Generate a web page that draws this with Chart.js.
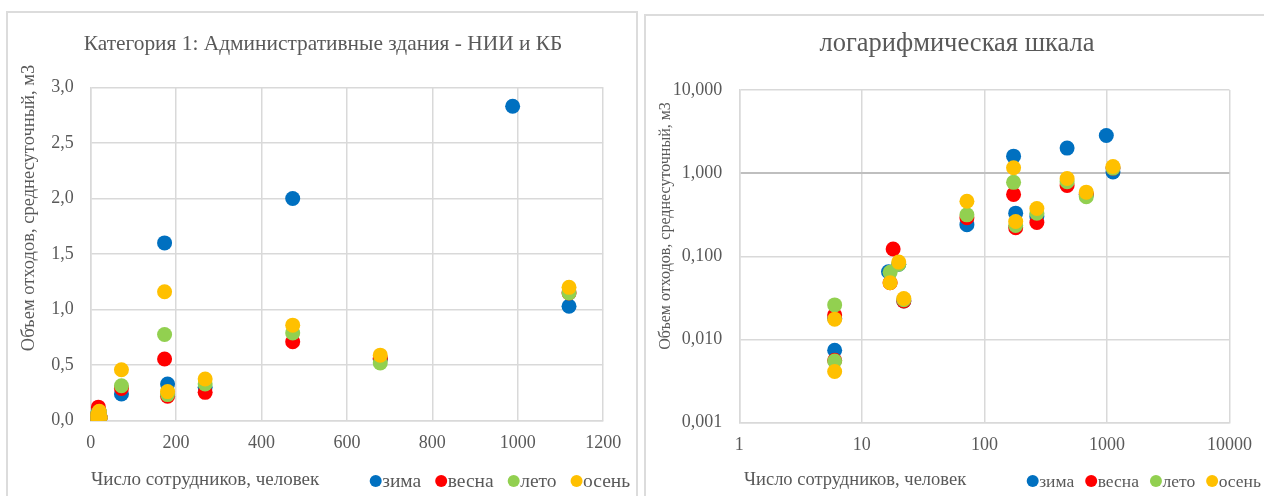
<!DOCTYPE html>
<html>
<head>
<meta charset="utf-8">
<script src="https://cdn.jsdelivr.net/npm/chart.js@4.4.1/dist/chart.umd.min.js"></script>
<style>
  html, body { margin: 0; padding: 0; background: #fff; width: 1264px; height: 496px; overflow: hidden; }
  .card { position: absolute; border: 2px solid #dcdcdc; background: #fff; box-sizing: border-box; }
  #cardLin { left: 6px; top: 11px; width: 632px; height: 530px; }
  #cardLog { left: 644px; top: 14px; width: 660px; height: 530px; }
  canvas { position: absolute; top: 0; }
  #linChart { left: 0; }
  #logChart { left: 640px; }
</style>
</head>
<body>
<div class="card" id="cardLin"></div>
<div class="card" id="cardLog"></div>
<canvas id="linChart" width="640" height="496"></canvas>
<canvas id="logChart" width="624" height="496"></canvas>
<script>
// Series: number of employees (x) and average daily waste volume, m3 (y), per season
const seasonNames  = ['зима', 'весна', 'лето', 'осень'];
const seasonColors = ['#0070C0', '#FF0000', '#92D050', '#FFC000'];

const winterX = [6, 6, 16.5, 20, 22, 72, 173, 180, 268, 473, 678, 988, 1120];
const winterY = [0.018, 0.0074, 0.065, 0.08, 0.029, 0.24, 1.60, 0.33, 0.30, 2.00, 0.55, 2.83, 1.03];

const springX = [6, 6, 17, 18, 22, 72, 173, 180, 268, 473, 678, 1120];
const springY = [0.0196, 0.0056, 0.048, 0.122, 0.029, 0.29, 0.555, 0.22, 0.255, 0.71, 0.56, 1.15];

const summerX = [6, 6, 17, 20, 22, 72, 173, 180, 268, 473, 678, 1120];
const summerY = [0.026, 0.0055, 0.064, 0.08, 0.030, 0.315, 0.775, 0.235, 0.33, 0.79, 0.52, 1.15];

const autumnX = [6, 6, 17, 20, 22, 72, 173, 180, 268, 473, 678, 1120];
const autumnY = [0.0175, 0.0041, 0.048, 0.085, 0.031, 0.458, 1.16, 0.262, 0.375, 0.86, 0.59, 1.20];

// Tick values and their labels
const linXTicks  = [0, 200, 400, 600, 800, 1000, 1200];
const linXLabels = ['0', '200', '400', '600', '800', '1000', '1200'];
const linYTicks  = [0, 0.5, 1, 1.5, 2, 2.5, 3];
const linYLabels = ['0,0', '0,5', '1,0', '1,5', '2,0', '2,5', '3,0'];
const logXTicks  = [1, 10, 100, 1000, 10000];
const logXLabels = ['1', '10', '100', '1000', '10000'];
const logYTicks  = [0.001, 0.01, 0.1, 1, 10];
const logYLabels = ['0,001', '0,010', '0,100', '1,000', '10,000'];

const titleLin = 'Категория 1: Административные здания - НИИ и КБ';
const titleLog = 'логарифмическая шкала';
const xTitle = 'Число сотрудников, человек';
const yTitle = 'Объем отходов, среднесуточный, м3';

const FONT = '"Liberation Serif", "Times New Roman", serif';
const TEXT = '#595959';
const GRID = '#d9d9d9';

const seriesX = [winterX, springX, summerX, autumnX];
const seriesY = [winterY, springY, summerY, autumnY];

function buildDatasets() {
  return seasonNames.map((name, i) => ({
    label: name,
    data: seriesX[i].map((x, k) => ({ x: x, y: seriesY[i][k] })),
    backgroundColor: seasonColors[i],
    borderWidth: 0,
    pointRadius: 7.5,
    pointHoverRadius: 7.5,
    showLine: false,
    order: seasonNames.length - i   // later seasons painted on top
  }));
}

// Heading, axis captions and the season key (built from the chart's own datasets)
const captionPlugin = {
  id: 'captions',
  afterDraw(chart, args, o) {
    const ctx = chart.ctx;
    ctx.save();
    ctx.fillStyle = TEXT;
    ctx.textBaseline = 'alphabetic';

    ctx.font = o.titleSize + 'px ' + FONT;
    ctx.textAlign = 'center';
    ctx.fillText(o.title, o.titleX, o.titleY);

    ctx.font = o.xSize + 'px ' + FONT;
    ctx.textAlign = 'left';
    ctx.fillText(o.xText, o.xX, o.xY);

    ctx.save();
    ctx.translate(o.yX, o.yY);
    ctx.rotate(-Math.PI / 2);
    ctx.font = o.ySize + 'px ' + FONT;
    ctx.textAlign = 'center';
    ctx.textBaseline = 'middle';
    ctx.fillText(o.yText, 0, 0);
    ctx.restore();

    let x = o.legX;
    ctx.font = o.legSize + 'px ' + FONT;
    ctx.textAlign = 'left';
    chart.data.datasets.forEach(ds => {
      ctx.fillStyle = ds.backgroundColor;
      ctx.beginPath();
      ctx.arc(x, o.legY, o.legR, 0, Math.PI * 2);
      ctx.fill();
      ctx.fillStyle = TEXT;
      const tx = x + o.legR + 0.5;
      ctx.fillText(ds.label, tx, o.legBase);
      x = tx + ctx.measureText(ds.label).width + o.legGap;
    });
    ctx.restore();
  }
};

function tickFont() { return { family: FONT, size: 18 }; }

function axis(type, min, max, tickVals, tickLabels, opts) {
  return Object.assign({
    type: type, min: min, max: max,
    afterBuildTicks: s => { s.ticks = tickVals.map(v => ({ value: v })); },
    ticks: { autoSkip: false, maxRotation: 0, color: TEXT, font: tickFont(),
             callback: (v, i) => tickLabels[i] },
    grid: { color: GRID, lineWidth: 1.5, drawTicks: false },
    border: { color: GRID, width: 1.5 }
  }, opts);
}

// Linear-scale chart
const linX = axis('linear', 0, 1200, linXTicks, linXLabels, { afterFit: s => { s.height = 40; } });
linX.ticks.padding = 12;
const linY = axis('linear', 0, 3, linYTicks, linYLabels, { afterFit: s => { s.width = 90.7; } });
linY.ticks.padding = 17;

new Chart(document.getElementById('linChart'), {
  type: 'scatter',
  data: { datasets: buildDatasets() },
  options: {
    responsive: false,
    animation: false,
    layout: { padding: { left: 0, right: 36.8, top: 87.3, bottom: 35.3 } },
    scales: { x: linX, y: linY },
    plugins: {
      legend: { display: false },
      tooltip: { enabled: false },
      title: { display: false },
      captions: {
        title: titleLin, titleSize: 21.4, titleX: 323, titleY: 50,
        xText: xTitle, xSize: 19, xX: 91, xY: 485,
        yText: yTitle, ySize: 18.5, yX: 29, yY: 208,
        legX: 375.7, legY: 481, legR: 6, legBase: 486.5, legSize: 19.5, legGap: 20
      }
    }
  },
  plugins: [captionPlugin]
});

// Logarithmic-scale chart
const logX = axis('logarithmic', 1, 10000, logXTicks, logXLabels, { afterFit: s => { s.height = 40; } });
logX.ticks.padding = 12;
const logY = axis('logarithmic', 0.001, 10, logYTicks, logYLabels, { afterFit: s => { s.width = 99.3; } });
logY.ticks.padding = 17;
logY.grid = {
  color: c => (c.tick && c.tick.value === 1) ? '#bfbfbf' : GRID,
  lineWidth: c => (c.tick && c.tick.value === 1) ? 2 : 1.5,
  drawTicks: false
};

new Chart(document.getElementById('logChart'), {
  type: 'scatter',
  data: { datasets: buildDatasets() },
  options: {
    responsive: false,
    animation: false,
    layout: { padding: { left: 0, right: 34.3, top: 90, bottom: 33.5 } },
    scales: { x: logX, y: logY },
    plugins: {
      legend: { display: false },
      tooltip: { enabled: false },
      title: { display: false },
      captions: {
        title: titleLog, titleSize: 26.5, titleX: 317, titleY: 50.5,
        xText: xTitle, xSize: 18.5, xX: 104, xY: 485,
        yText: yTitle, ySize: 16, yX: 26, yY: 226,
        legX: 392.7, legY: 481, legR: 6, legBase: 486.5, legSize: 17.5, legGap: 17
      }
    }
  },
  plugins: [captionPlugin]
});
</script>
</body>
</html>
